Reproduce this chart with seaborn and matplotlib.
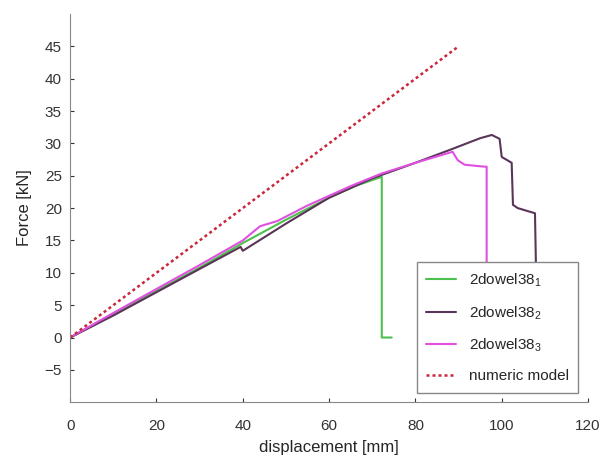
import pandas as pd
import matplotlib
matplotlib.use("Agg")
import matplotlib.pyplot as plt
import seaborn as sns

# test curves (displacement [mm], force [kN])
d1 = [0, 10, 20, 30, 40, 50, 60, 66, 72, 72.2, 72.2, 74.5]
f1 = [0, 3.6, 7.2, 10.8, 14.6, 18.2, 21.6, 23.4, 24.8, 24.8, 0, 0]

d2 = [0, 10, 20, 30, 39.5, 40, 50, 60, 70, 80, 88, 95, 97.7, 99.5, 100, 102.3, 102.6, 103.7, 107.7, 107.9, 107.9]
f2 = [0, 3.4, 7.0, 10.6, 14.0, 13.4, 17.6, 21.6, 24.6, 27.0, 29.0, 30.8, 31.3, 30.7, 27.9, 27.0, 20.5, 20.0, 19.2, 12.0, 0]

d3 = [0, 10, 20, 30, 40, 44, 48, 55, 65, 72, 80, 88.6, 89.8, 91.4, 96, 96.5, 96.5]
f3 = [0, 3.8, 7.5, 11.2, 15.0, 17.2, 18.0, 20.4, 23.4, 25.3, 27.0, 28.7, 27.4, 26.7, 26.4, 26.4, 0]

d_num = [0, 90]
f_num = [0, 45]

labels = ["2dowel38$_1$", "2dowel38$_2$", "2dowel38$_3$"]

tests = pd.concat([
    pd.DataFrame({"displacement": d, "force": f, "test": lab})
    for d, f, lab in zip([d1, d2, d3], [f1, f2, f3], labels)
])
model = pd.DataFrame({"displacement": d_num, "force": f_num})

sns.set_style("ticks")
plt.rcParams["font.family"] = ["Liberation Sans", "DejaVu Sans"]
plt.rcParams["mathtext.default"] = "regular"

fig = plt.figure(figsize=(6.05, 4.65), dpi=100)
ax = fig.add_axes([0.116, 0.135, 0.856, 0.835])

palette = {labels[0]: "#4cc04c", labels[1]: "#5a3558", labels[2]: "#e050e0"}
sns.lineplot(data=tests, x="displacement", y="force", hue="test", palette=palette,
             sort=False, estimator=None, linewidth=1.5, ax=ax)
sns.lineplot(data=model, x="displacement", y="force", color="#c8283c",
             linestyle=(0, (1.2, 1.2)), linewidth=1.8, label="numeric model", ax=ax)

ax.set_xlim(0, 120)
ax.set_ylim(-10, 50)
ax.set_xticks(range(0, 121, 20))
ax.set_yticks(range(-5, 46, 5))
ax.set_xlabel("displacement [mm]", fontsize=12, labelpad=5)
ax.set_ylabel("Force [kN]", fontsize=12, labelpad=9)
ax.tick_params(direction="in", length=3, labelsize=11, colors="#333333", pad=6)
ax.tick_params(axis="x", pad=12)
for side in ["top", "right"]:
    ax.spines[side].set_visible(False)
for side in ["left", "bottom"]:
    ax.spines[side].set_color("#888888")

leg = ax.legend(loc="lower right", bbox_to_anchor=(0.995, 0.005), fontsize=11,
                handlelength=2.0, labelspacing=1.0, borderpad=0.6,
                fancybox=False, framealpha=1, edgecolor="#888888")
leg.get_frame().set_linewidth(1.0)

fig.savefig("out.png", dpi=100)
